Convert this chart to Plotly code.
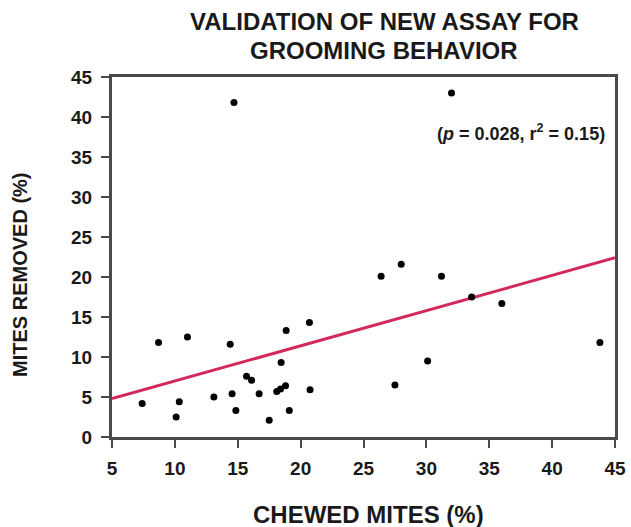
import plotly.graph_objects as go

# Data
chewed_mites = [7.4, 8.7, 10.1, 10.35, 11.0, 13.1, 14.4, 14.55, 14.7, 14.85,
                15.7, 16.1, 16.7, 17.5, 18.1, 18.4, 18.45, 18.8, 18.85, 19.1,
                20.7, 20.75, 26.4, 27.5, 28.0, 30.1, 31.2, 32.0, 33.6, 36.0, 43.8]
mites_removed = [4.2, 11.8, 2.5, 4.4, 12.5, 5.0, 11.6, 5.4, 41.8, 3.3,
                 7.6, 7.1, 5.4, 2.1, 5.7, 6.0, 9.3, 6.4, 13.3, 3.3,
                 14.3, 5.9, 20.1, 6.5, 21.6, 9.5, 20.1, 43.0, 17.5, 16.7, 11.8]
fit_x = [5, 45]
fit_y = [4.8, 22.4]

x_ticks = [5, 10, 15, 20, 25, 30, 35, 40, 45]
y_ticks = [0, 5, 10, 15, 20, 25, 30, 35, 40, 45]

title_lines = ["VALIDATION OF NEW ASSAY FOR", "GROOMING BEHAVIOR"]
x_title = "CHEWED MITES (%)"
y_title = "MITES REMOVED (%)"
stats_text = "(<i>p</i> = 0.028, r<sup>2</sup> = 0.15)"

FONT = "Liberation Sans"
AX = "#4a4a4a"
TXT = "#1a1a1a"

fig = go.Figure()
fig.add_trace(go.Scatter(x=fit_x, y=fit_y, mode="lines",
                         line=dict(color="#d2285a", width=3), hoverinfo="skip"))
fig.add_trace(go.Scatter(x=chewed_mites, y=mites_removed, mode="markers",
                         marker=dict(color="black", size=7)))

fig.update_layout(
    width=631, height=527,
    margin=dict(l=112, r=16, t=77, b=90),
    paper_bgcolor="white", plot_bgcolor="white",
    showlegend=False,
    font=dict(family=FONT, color=TXT),
)
axis_common = dict(showgrid=False, zeroline=False, showline=True, linecolor=AX, linewidth=3,
                   mirror=True, ticks="outside", ticklen=8, tickwidth=2, tickcolor=AX,
                   tickfont=dict(family=FONT, size=19, color=TXT, weight="bold"),
                   automargin=False)
fig.update_xaxes(range=[5, 45], tickvals=x_ticks, ticktext=[str(v) for v in x_ticks],
                 ticklabelstandoff=4, **axis_common)
fig.update_yaxes(range=[0, 45], tickvals=y_ticks, ticktext=[str(v) for v in y_ticks],
                 ticklabelstandoff=5, **axis_common)

def ann(text, x, y, size, xanchor="center", angle=0):
    fig.add_annotation(text=f"<b>{text}</b>", xref="paper", yref="paper",
                       x=x, y=y, xanchor=xanchor, yanchor="middle", showarrow=False,
                       textangle=angle, font=dict(family=FONT, size=size, color=TXT))

ann(title_lines[0], 0.541, 1.153, 24)
ann(title_lines[1], 0.541, 1.075, 24)
ann(x_title, 0.510, -0.214, 24)
ann(y_title, -0.183, 0.45, 20, angle=-90)
ann(stats_text, 0.984, 0.845, 18, xanchor="right")

fig.write_html("out.html")
